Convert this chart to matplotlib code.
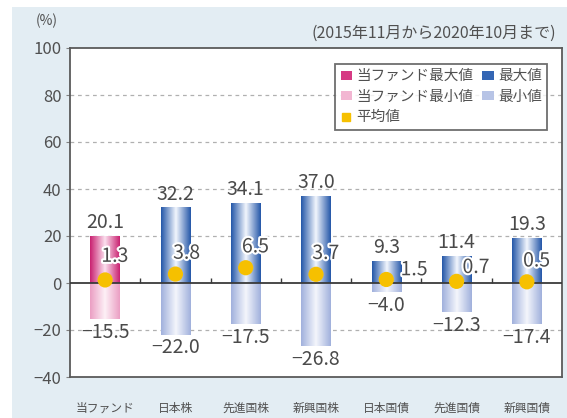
import numpy as np
import matplotlib
matplotlib.use("Agg")
import matplotlib.pyplot as plt
import matplotlib.patheffects as pe
from matplotlib.colors import LinearSegmentedColormap
from matplotlib.patches import Patch, Rectangle
from matplotlib.lines import Line2D

plt.rcParams['font.family'] = ['Noto Sans CJK JP', 'DejaVu Sans']

# データ
categories = ['当ファンド', '日本株', '先進国株', '新興国株', '日本国債', '先進国債', '新興国債']
max_values = [20.1, 32.2, 34.1, 37.0, 9.3, 11.4, 19.3]
min_values = [-15.5, -22.0, -17.5, -26.8, -4.0, -12.3, -17.4]
mean_values = [1.3, 3.8, 6.5, 3.7, 1.5, 0.7, 0.5]
yticks = [-40, -20, 0, 20, 40, 60, 80, 100]

# 平均値ラベルの位置調整 (points)
mean_offsets = [(7, 17), (8, 15), (7, 15), (7, 15), (20, 7), (14, 10), (7, 15)]

text_color = '#4a4a4a'
bar_width = 0.42
value_fs = 14


def make_cmap(edge, center):
    return LinearSegmentedColormap.from_list('g', [edge, center, edge], N=256)


cmap_fund_max = make_cmap('#c92070', '#fbe0ee')
cmap_fund_min = make_cmap('#eb9ec3', '#fdf0f6')
cmap_max = make_cmap('#2356a8', '#f2f6fd')
cmap_min = make_cmap('#a0b0dc', '#f4f6fc')

fig = plt.figure(figsize=(5.67, 4.18), dpi=100, facecolor='white')
# 背景パネル
fig.patches.append(Rectangle((12 / 567, 0), 1, 1 - 7 / 418, transform=fig.transFigure,
                             facecolor='#e3edf3', edgecolor='none', zorder=-10))

ax = fig.add_axes([70 / 567, 1 - 377 / 418, 492 / 567, 329 / 418])
ax.set_facecolor('white')
ax.set_zorder(1)

x = np.arange(len(categories))

# グリッド
for t in yticks[1:-1]:
    if t != 0:
        ax.axhline(t, color='#b0b0b0', lw=0.9, ls=(0, (3, 3)), zorder=1)

grad = np.linspace(0, 1, 256).reshape(1, -1)


def gradient_bars(xs, vals, cmaps):
    bars = ax.bar(xs, vals, width=bar_width, color='none', edgecolor='none', zorder=2)
    for b, cm in zip(bars, cmaps):
        x0 = b.get_x()
        y0 = b.get_y()
        im = ax.imshow(grad, cmap=cm, aspect='auto', zorder=2,
                       extent=(x0, x0 + b.get_width(), y0, y0 + b.get_height()))
        im.set_clip_path(b)
    return bars


max_cmaps = [cmap_fund_max] + [cmap_max] * (len(categories) - 1)
min_cmaps = [cmap_fund_min] + [cmap_min] * (len(categories) - 1)
gradient_bars(x, max_values, max_cmaps)
gradient_bars(x, min_values, min_cmaps)
# imshow が軸範囲を変えるので戻す
ax.set_xlim(-0.5, len(categories) - 0.5)
ax.set_ylim(-40, 100)

# ゼロ線と区切り目盛
ax.axhline(0, color='#3a3a3a', lw=1.3, zorder=3)
ax.vlines(x[:-1] + 0.5, 0, 2.2, color='#3a3a3a', lw=1.0, zorder=3)

# 平均値
ax.scatter(x, mean_values, s=120, color='#f6c000', edgecolor='none', zorder=4)

halo = [pe.withStroke(linewidth=3, foreground='white')]
for xi, mx, mn, mv, off in zip(x, max_values, min_values, mean_values, mean_offsets):
    ax.annotate(f'{mx:.1f}', (xi, mx), xytext=(0, 2), textcoords='offset points',
                ha='center', va='bottom', fontsize=value_fs, color=text_color, zorder=5)
    ax.annotate(f'{mn:.1f}'.replace('-', '\u2212'), (xi, mn), xytext=(0, -2),
                textcoords='offset points', ha='center', va='top',
                fontsize=value_fs, color=text_color, zorder=5)
    ax.annotate(f'{mv:.1f}', (xi, mv), xytext=off, textcoords='offset points',
                ha='center', va='center', fontsize=value_fs, color=text_color,
                path_effects=halo, zorder=5)

# 軸
ax.set_yticks(yticks)
ax.set_yticklabels([str(t).replace('-', '\u2212') for t in yticks],
                   fontsize=12, color='#505050')
ax.tick_params(axis='y', length=3, width=0.8, color='#808080', pad=3)
ax.set_xticks(x)
ax.set_xticklabels(categories, fontsize=8.5, color='#505050')
ax.tick_params(axis='x', length=0, pad=18)
for s in ax.spines.values():
    s.set_color('#5a5a5a')
    s.set_linewidth(1.3)

fig.text(47 / 567, 1 - 21 / 418, '(%)', ha='center', va='center', fontsize=10, color='#505050')
fig.text(556 / 567, 1 - 33 / 418, '(2015年11月から2020年10月まで)', ha='right', va='center',
         fontsize=11.5, color='#505050')

# 凡例
handles = [
    Patch(facecolor='#d63a84', edgecolor='none', label='当ファンド最大値'),
    Patch(facecolor='#f2b6d2', edgecolor='none', label='当ファンド最小値'),
    Line2D([], [], marker='s', ls='none', color='#f6c000', markersize=6, label='平均値'),
    Patch(facecolor='#3466b4', edgecolor='none', label='最大値'),
    Patch(facecolor='#b7c4e6', edgecolor='none', label='最小値'),
]
leg = ax.legend(handles=handles, ncol=2, loc='upper right', bbox_to_anchor=(0.985, 0.973),
                fontsize=10.5, frameon=True, fancybox=False, handlelength=0.8, handleheight=0.6,
                handletextpad=0.3, columnspacing=0.6, labelspacing=0.45, borderpad=0.35)
leg.get_frame().set_edgecolor('#4a4a4a')
leg.get_frame().set_linewidth(1.3)
for t in leg.get_texts():
    t.set_color('#505050')

fig.savefig('out.png', dpi=100, facecolor=fig.get_facecolor())
